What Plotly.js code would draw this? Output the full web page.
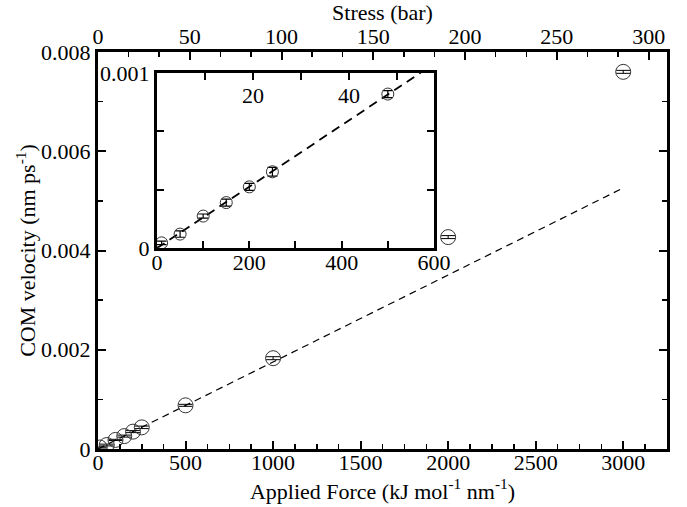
<!DOCTYPE html>
<html><head><meta charset="utf-8">
<script src="https://cdn.plot.ly/plotly-3.0.1.min.js"></script>
<style>html,body{margin:0;padding:0;background:#fff}#plot{width:687px;height:507px}</style>
</head><body><div id="plot"></div>
<script>
// Data
const force = [10, 50, 100, 150, 200, 250, 500, 1000, 2000, 3000];
const velocity = [0.00003, 0.00008, 0.000183, 0.00026, 0.00035, 0.000436, 0.00088, 0.00183, 0.00427, 0.0076];
const velErr = [0.00001, 0.000018, 0.000012, 0.00002, 0.00002, 0.000025, 0.00002, 0.00003, 0.00003, 0.00003];
const fitX = [0, 3000];
const fitY = [0, 0.00526];
const insetForce = [10, 50, 100, 150, 200, 250, 500];
const insetVel = [0.00003, 0.00008, 0.000183, 0.00026, 0.00035, 0.000436, 0.00088];
const insetErr = [0.00001, 0.000018, 0.000012, 0.00002, 0.00002, 0.000025, 0.00002];
const insetFitX = [0, 600];
const insetFitY = [0, 0.001053];
const stressRange = [0, 310];
const insetStressRange = [0, 57.7];

const F = "Liberation Serif";
function fnt(s) { return {family: F, size: s, color: '#000'}; }

const traces = [
  {x: fitX, y: fitY, xaxis: 'x', yaxis: 'y', mode: 'lines', line: {color: '#000', width: 1.2, dash: '7px,5px'}, hoverinfo: 'skip'},
  {x: force, y: velocity, xaxis: 'x', yaxis: 'y', mode: 'markers',
   marker: {symbol: 'circle-open', size: 15, color: '#333', line: {width: 1, color: '#333'}},
   error_y: {type: 'data', array: velErr, visible: true, color: '#000', thickness: 1, width: 7}},
  {x: stressRange, y: [null, null], xaxis: 'x2', yaxis: 'y', mode: 'markers', hoverinfo: 'skip'},
  {x: insetFitX, y: insetFitY, xaxis: 'x3', yaxis: 'y3', mode: 'lines', line: {color: '#000', width: 1.8, dash: '9px,6px'}, hoverinfo: 'skip'},
  {x: insetForce, y: insetVel, xaxis: 'x3', yaxis: 'y3', mode: 'markers',
   marker: {symbol: 'circle-open', size: 12, color: '#333', line: {width: 1, color: '#333'}},
   error_y: {type: 'data', array: insetErr, visible: true, color: '#000', thickness: 1.2, width: 5}},
  {x: insetStressRange, y: [null, null], xaxis: 'x4', yaxis: 'y3', mode: 'markers', hoverinfo: 'skip'}
];

function ax(extra) {
  return Object.assign({showgrid: false, zeroline: false, showline: true, linecolor: '#000', linewidth: 3,
    ticks: 'inside', tickcolor: '#000', tickwidth: 2, ticklen: 8, tickfont: fnt(22)}, extra);
}

const layout = {
  width: 687, height: 507,
  margin: {l: 98, r: 20, t: 52, b: 58},
  paper_bgcolor: '#fff', plot_bgcolor: '#fff',
  showlegend: false,
  font: fnt(22),
  xaxis: ax({domain: [0, 1], anchor: 'y', side: 'bottom', range: [0, 3250], dtick: 500, tick0: 0,
    minor: {dtick: 125, tick0: 0, ticks: 'inside', ticklen: 5, tickwidth: 1.5, tickcolor: '#000'},
    ticklabelstandoff: -8,
    title: {text: 'Applied Force (kJ mol<sup>-1</sup> nm<sup>-1</sup>)', font: fnt(22), standoff: 0}}),
  xaxis2: ax({overlaying: 'x', anchor: 'y', side: 'top', range: stressRange, dtick: 50, tick0: 0,
    minor: {dtick: 50/3, tick0: 0, ticks: 'inside', ticklen: 5, tickwidth: 1.5, tickcolor: '#000'},
    ticklabelstandoff: -4,
    title: {text: 'Stress (bar)', font: fnt(22), standoff: 4}}),
  yaxis: ax({domain: [0, 1], anchor: 'x', range: [0, 0.008], dtick: 0.002, tick0: 0, mirror: 'ticks',
    minor: {dtick: 0.001, tick0: 0, ticks: 'inside', ticklen: 5, tickwidth: 1.5, tickcolor: '#000'},
    ticklabelstandoff: 0,
    title: {text: 'COM velocity (nm ps<sup>-1</sup>)', font: fnt(22), standoff: 0}}),
  xaxis3: ax({domain: [0.1037, 0.5905], anchor: 'y3', side: 'bottom', range: [0, 600], dtick: 200, tick0: 0,
    ticklen: 7, ticklabelstandoff: -8,
    minor: {dtick: 100, tick0: 0, ticks: 'inside', ticklen: 7, tickwidth: 2, tickcolor: '#000'}}),
  xaxis4: ax({overlaying: 'x3', anchor: 'y3', side: 'top', range: insetStressRange,
    tickvals: [20, 40], ticktext: ['20', '40'], ticklabelstandoff: -42, ticklen: 7,
    minor: {dtick: 10, tick0: 0, ticks: 'inside', ticklen: 7, tickwidth: 2, tickcolor: '#000'}}),
  yaxis3: ax({domain: [0.506, 0.947], anchor: 'x3', range: [0, 0.0010001], mirror: 'ticks',
    tickvals: [0, 0.001], ticktext: ['0', '0.001'], ticklen: 7, ticklabelstandoff: 0,
    minor: {tickvals: [0.001/3, 0.002/3], ticks: 'inside', ticklen: 7, tickwidth: 2, tickcolor: '#000'}})
};

Plotly.newPlot('plot', traces, layout, {staticPlot: true});
</script></body></html>
